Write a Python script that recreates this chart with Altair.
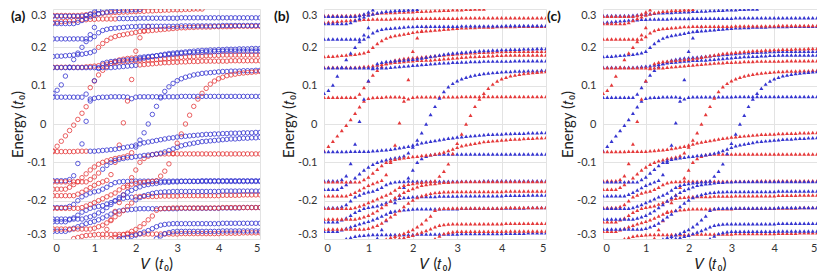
import re
import altair as alt
import pandas as pd

# ---------------- data ----------------
V_GRID = [0.0, 0.1, 0.2, 0.3, 0.4, 0.5, 0.6, 0.7, 0.8, 0.9,
          1.0, 1.1, 1.2, 1.3, 1.4, 1.5, 1.6, 1.7, 1.8, 1.9,
          2.0, 2.1, 2.2, 2.3, 2.4, 2.5, 2.6, 2.7, 2.8, 2.9,
          3.0, 3.1, 3.2, 3.3, 3.4, 3.5, 3.6, 3.7, 3.8, 3.9,
          4.0, 4.1, 4.2, 4.3, 4.4, 4.5, 4.6, 4.7, 4.8, 4.9, 5.0]
X_TICKS = [0, 1, 2, 3, 4, 5]
Y_TICKS = [-0.3, -0.2, -0.1, 0, 0.1, 0.2, 0.3]
PANEL_LABELS = ["(a)", "(b)", "(c)"]
N = None

# energy levels (units of t0) at V = 0, 0.1, ..., 5.0 ; colours are those of panel (b)
r1 = [0.283]*7 + [0.284, 0.285, 0.286, 0.287] + [0.288, 0.289, 0.29, 0.29, 0.291] + \
     [0.291, 0.292, 0.292, 0.293, 0.293] + [0.294, 0.294, 0.295, 0.295, 0.296] + \
     [0.296, 0.297, 0.297, 0.298, 0.298] + [0.298, 0.299, 0.299, 0.3, 0.3, 0.3] + [N]*14
r2 = [0.265, 0.266, 0.267, 0.268, 0.269, 0.27, 0.271, 0.272, 0.272, 0.273, 0.273] + \
     [0.274]*5 + [0.275]*5 + [0.276]*10 + [0.277]*20
r3 = [0.176, 0.177, 0.177, 0.178, 0.179, 0.18, 0.181, 0.182, 0.184, 0.186, 0.19] + \
     [0.2, 0.21, 0.218, 0.224, 0.228] + [0.231, 0.233, 0.235, 0.237, 0.239] + \
     [0.241, 0.242, 0.243, 0.244, 0.245] + [0.246, 0.247, 0.248, 0.249, 0.25] + \
     [0.251, 0.251, 0.252, 0.252, 0.253] + [0.253]*3 + [0.254]*5 + [0.255]*7
r4 = [0.148]*8 + [0.149, 0.15, 0.151, 0.152, 0.154, 0.156, 0.158] + \
     [0.16, 0.161, 0.162, 0.163, 0.164, 0.165] + [0.166, 0.166, 0.167, 0.167, 0.168] + \
     [0.169, 0.17, 0.171, 0.172, 0.173] + [0.174, 0.175, 0.176, 0.176, 0.177] + \
     [0.177, 0.178, 0.178, 0.179, 0.179] + [0.18]*10
p07 = [0.07]*8 + [0.078, 0.095, 0.112, 0.128, 0.14, 0.15, 0.158, 0.163, 0.167] + \
      [0.169, 0.171, 0.172, 0.173] + [0.174, 0.175, 0.176, 0.177, 0.178] + \
      [0.179, 0.18, 0.181, 0.182, 0.183] + [0.184, 0.185, 0.186, 0.186, 0.187] + \
      [0.187, 0.188, 0.188, 0.189, 0.189] + [0.19]*10
dr1 = [-0.07, -0.058, -0.045, -0.031, -0.017, -0.003, 0.012, 0.028, 0.045, 0.06, 0.067] + \
      [0.069, 0.07, 0.07, 0.071, 0.071] + [0.071, 0.071, 0.07, 0.066, 0.07] + \
      [0.071]*10 + [0.072]*20
rr2 = [-0.187]*6 + [-0.183, -0.178, -0.172, -0.166, -0.16] + \
      [-0.155, -0.151, -0.147, -0.132, -0.1] + [-0.055, 0.003, 0.06, 0.116, 0.19] + \
      [0.225, 0.243, 0.254] + [N]*27
b1 = [0.281]*8 + [0.283, 0.287, 0.292, 0.298] + [N]*39
b2 = [0.262]*6 + [0.265, 0.27, 0.275, 0.28, 0.284] + [0.287, 0.29, 0.292, 0.294, 0.295] + \
     [0.296, 0.297, 0.297, 0.298, 0.298] + [0.299] + [N]*29
b3 = [0.222]*10 + [0.228, 0.238, 0.244, 0.247, 0.249, 0.25] + \
     [0.251, 0.252, 0.253, 0.254, 0.254] + [0.255]*10 + [0.256]*10 + [0.257]*10
d1 = [0.08, 0.088, 0.102, 0.125, 0.148, 0.168, 0.185, 0.2, 0.215, 0.233, 0.252] + [N]*40
b5 = [0.147]*15 + [0.148, 0.149, 0.15, 0.151, 0.152, 0.153] + [0.154, 0.155, 0.156, 0.157, 0.158] + \
     [0.159, 0.16, 0.16, 0.161, 0.161] + [0.162, 0.162, 0.163, 0.163, 0.163] + [0.164]*7 + [0.165]*8
d2 = [-0.148]*4 + [-0.145, -0.135, -0.103, -0.052, 0.007, 0.065, 0.113] + \
     [0.145, 0.158, 0.161, 0.163, 0.164] + [0.165, 0.166, 0.167, 0.168, 0.169] + \
     [0.17, 0.172, 0.174, 0.176, 0.178] + [0.18, 0.182, 0.184, 0.185, 0.186] + \
     [0.187, 0.188, 0.189, 0.19, 0.191] + [0.192, 0.192, 0.193, 0.193, 0.194] + \
     [0.194, 0.195, 0.195, 0.195, 0.196, 0.196, 0.196, 0.197, 0.197, 0.197]
l1 = [-0.072]*6 + [-0.071]*5 + [-0.07, -0.069, -0.068, -0.067, -0.066] + \
     [-0.064, -0.062, -0.06, -0.058, -0.055] + [-0.052, -0.049, -0.047, -0.045, -0.043] + \
     [-0.041, -0.039, -0.037, -0.036, -0.034] + [-0.033, -0.032, -0.031, -0.03, -0.029] + \
     [-0.028, -0.027, -0.027, -0.026, -0.026] + \
     [-0.025, -0.025, -0.024, -0.024, -0.024, -0.023, -0.023, -0.023, -0.022, -0.022]
l3 = [-0.17]*4 + [-0.165, -0.158, -0.15, -0.14, -0.13, -0.12, -0.112] + \
     [-0.105, -0.1, -0.096, -0.093, -0.09] + [-0.088, -0.086, -0.083, -0.075, -0.06] + \
     [-0.042, -0.023, 0.0, 0.025, 0.046] + [0.068, 0.085, 0.097, 0.106, 0.113] + \
     [0.118, 0.122, 0.125, 0.128, 0.13] + [0.132, 0.133, 0.134, 0.135, 0.136] + \
     [0.137, 0.137, 0.138, 0.138, 0.138, 0.139, 0.139, 0.139, 0.14, 0.14]
l4 = [-0.218]*4 + [-0.215, -0.21, -0.2, -0.19, -0.185, -0.18, -0.177] + \
     [-0.175, -0.17, -0.165, -0.158, -0.153] + [-0.151, -0.15, -0.15, -0.149, -0.149] + \
     [-0.149]*15 + [-0.148]*15
l5 = [-0.255]*4 + [-0.25, -0.245, -0.238, -0.23, -0.225, -0.22, -0.217] + \
     [-0.215, -0.213, -0.209, -0.205, -0.2] + [-0.196, -0.194, -0.192, -0.191, -0.19] + \
     [-0.189]*5 + [-0.188]*5 + [-0.187]*10 + [-0.186]*5 + [-0.185]*5
l6 = [-0.28]*4 + [-0.276, -0.272, -0.268, -0.264, -0.26, -0.257, -0.254] + \
     [-0.25, -0.245, -0.24, -0.235, -0.23] + [-0.227, -0.225, -0.224, -0.223, -0.222] + \
     [-0.221]*10 + [-0.22]*10 + [-0.219]*5 + [-0.218]*5
l7 = [N]*5 + [-0.299, -0.296, -0.293, -0.291, -0.29, -0.289] + \
     [-0.288]*10 + [-0.287]*10 + [-0.286]*10 + [-0.285]*5 + [-0.284]*5
l8 = [N]*12 + [-0.298, -0.275, -0.252, -0.228, -0.205, -0.185, -0.165, -0.14, -0.12] + \
     [-0.1, -0.09, -0.084, -0.08, -0.079] + [-0.078]*25
rn1 = [-0.151]*9 + [-0.145, -0.138] + [-0.128, -0.118, -0.108, -0.1, -0.095] + \
      [-0.092, -0.09, -0.088, -0.087, -0.085] + [-0.084, -0.082, -0.081, -0.08, -0.078] + \
      [-0.076, -0.073, -0.069, -0.065, -0.061] + [-0.057, -0.054, -0.052, -0.05, -0.048] + \
      [-0.046, -0.045, -0.044, -0.043, -0.042] + \
      [-0.041, -0.04, -0.039, -0.039, -0.038, -0.037, -0.037, -0.036, -0.036, -0.035]
rn3 = [-0.22]*7 + [-0.218, -0.214, -0.21, -0.205] + [-0.2, -0.195, -0.19, -0.185, -0.18] + \
      [-0.172, -0.165, -0.16, -0.157, -0.155] + [-0.153, -0.152, -0.151, -0.15, -0.148] + \
      [-0.136, -0.123, -0.104, -0.077, -0.05] + [-0.026, 0.0, 0.023, 0.046, 0.065] + \
      [0.08, 0.093, 0.104, 0.112, 0.118] + \
      [0.122, 0.126, 0.128, 0.13, 0.132, 0.133, 0.134, 0.135, 0.136, 0.137]
rn4 = [-0.248]*8 + [-0.245, -0.242, -0.238] + [-0.232, -0.226, -0.218, -0.21, -0.201] + \
      [-0.192, -0.185, -0.178, -0.173, -0.168] + [-0.164, -0.16, -0.158, -0.156, -0.155] + \
      [-0.153, -0.152, -0.152, -0.151, -0.151] + [-0.15]*20
rn5 = [-0.274]*10 + [-0.272] + [-0.268, -0.264, -0.258, -0.25, -0.242] + \
      [-0.235, -0.226, -0.215, -0.206, -0.198] + [-0.192, -0.187, -0.184, -0.181, -0.179] + \
      [-0.178, -0.177, -0.177, -0.176, -0.176] + [-0.176]*10 + [-0.175]*10
rn6 = [N]*14 + [-0.3, -0.296, -0.293, -0.289, -0.285, -0.28, -0.275] + \
      [-0.268, -0.26, -0.25, -0.24, -0.225] + [-0.221, -0.22, -0.22, -0.219, -0.219] + \
      [-0.219]*10 + [-0.218]*10
rn7 = [N]*16 + [-0.3, -0.298, -0.296, -0.293, -0.29] + [-0.286, -0.282, -0.278, -0.273, -0.268] + \
      [-0.264, -0.262, -0.261, -0.26, -0.26] + [-0.26]*10 + [-0.259]*10
rn8 = [N]*25 + [-0.299, -0.292, -0.286, -0.283, -0.281] + [-0.28]*11 + [-0.279]*10

# (name, values, colour in panel (b), colour runs in panel (a)); panel (c) = (b) with colours swapped
CURVES = [
    ("r1", r1, "r", "r51"), ("r2", r2, "r", "r16b35"), ("r3", r3, "r", "b11r40"),
    ("r4", r4, "r", "r51"), ("p07", p07, "r", "b9r12b30"), ("dr1", dr1, "r", "r9b42"),
    ("rr2", rr2, "r", "r51"),
    ("b1", b1, "b", "b51"), ("b2", b2, "b", "b51"), ("b3", b3, "b", "b51"),
    ("d1", d1, "b", "b51"), ("b5", b5, "b", "b21r30"), ("d2", d2, "b", "b51"),
    ("l1", l1, "b", "r9b42"), ("l3", l3, "b", "r20b31"), ("l4", l4, "b", "b51"),
    ("l5", l5, "b", "b20r31"), ("l6", l6, "b", "b51"), ("l7", l7, "b", "r51"),
    ("l8", l8, "b", "r51"),
    ("rn1", rn1, "r", "r12b39"), ("rn3", rn3, "r", "r51"), ("rn4", rn4, "r", "b51"),
    ("rn5", rn5, "r", "r20b31"), ("rn6", rn6, "r", "r51"), ("rn7", rn7, "r", "b51"),
    ("rn8", rn8, "r", "b51"),
]

# ---------------- build tables ----------------
def runs(spec):
    out = []
    for c, n in re.findall(r"([rb])(\d+)", spec):
        out += [c] * int(n)
    return out

rows = {"a": [], "b": [], "c": []}
for name, vals, cb, spec_a in CURVES:
    ca = runs(spec_a)
    for i, (v, e) in enumerate(zip(V_GRID, vals)):
        if e is None or e < -0.3005 or e > 0.3005:
            continue
        rows["a"].append({"V": v, "E": e, "c": ca[i] if i < len(ca) else ca[-1], "k": name})
        rows["b"].append({"V": v, "E": e, "c": cb, "k": name})
        rows["c"].append({"V": v, "E": e, "c": "b" if cb == "r" else "r", "k": name})

FONT = "Lato"
RED_T, BLUE_T = "#f01414", "#1414e8"
RED_C, BLUE_C = "#e5393a", "#3535d0"


def panel(key, label, width, label_x, shape, filled, size, red, blue):
    df = pd.DataFrame(rows[key])
    pts = alt.Chart(df).mark_point(
        shape=shape, filled=filled, size=size, strokeWidth=0.8, opacity=1, clip=True
    ).encode(
        x=alt.X("V:Q", scale=alt.Scale(domain=[0, 5], nice=False, zero=False),
                axis=alt.Axis(values=X_TICKS, title="𝑉 (𝑡₀)", format="d",
                              labelPadding=3, titlePadding=3)),
        y=alt.Y("E:Q", scale=alt.Scale(domain=[-0.3, 0.3], nice=False, zero=False),
                axis=alt.Axis(values=Y_TICKS, title="Energy (𝑡₀)", labelFlush=True,
                              labelExpr="datum.value == 0 ? '0' : (datum.value < 0 ? '-' + format(-datum.value, '.1f') : format(datum.value, '.1f'))",
                              labelPadding=7, titleX=-28, titleY=115)),
        color=alt.Color("c:N", scale=alt.Scale(domain=["r", "b"], range=[red, blue]), legend=None),
    )
    lab = alt.Chart(pd.DataFrame({"t": [label]})).mark_text(
        font=FONT, fontSize=14, fontWeight="bold", align="left", baseline="top", color="#111"
    ).encode(text="t:N", x=alt.value(label_x), y=alt.value(1))
    return alt.layer(pts, lab).properties(width=width, height=230)


pa = panel("a", PANEL_LABELS[0], 207, -42, "circle", False, 20, RED_C, BLUE_C)
pb = panel("b", PANEL_LABELS[1], 222, -50, "triangle-up", True, 16, RED_T, BLUE_T)
pc = panel("c", PANEL_LABELS[2], 214, -56, "triangle-up", True, 16, RED_T, BLUE_T)

chart = alt.hconcat(pa, alt.hconcat(pb, pc, spacing=1), spacing=14).properties(
    padding={"left": 2, "top": 1, "right": 0, "bottom": 0}
).configure_view(stroke=None).configure_axis(
    grid=True, gridColor="#e3e3e3", gridWidth=1, domain=False, ticks=False,
    labelFont=FONT, labelFontSize=11, labelColor="#333333",
    titleFont=FONT, titleFontSize=15, titleFontWeight="normal", titleColor="#222222",
)

chart.save("out.html", embed_options={"renderer": "svg", "actions": False})
